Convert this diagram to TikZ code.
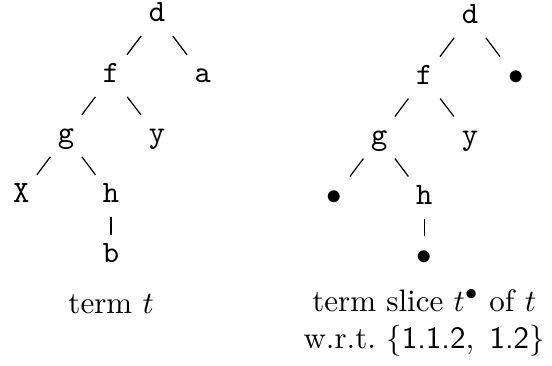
\documentclass[tikz,border=0pt]{standalone}
\usepackage{tikz}
\usetikzlibrary{positioning}

\begin{document}
\begin{tikzpicture}[
  sym/.style={font=\ttfamily, text height=5.5pt, text depth=1pt},
  hole/.style={sym, font=\normalfont},
  branch/.style={line width=0.4pt, draw=black},
  caption/.style={anchor=base, align=center}
]
\useasboundingbox (0,0) rectangle (6.26,-4.14);
% term t
\node[sym] (rootT) at (1.78,-0.17) {d};
\node[sym] (fT) at (1.26,-0.86) {f};
\node[sym] (aT) at (2.30,-0.86) {a};
\node[sym] (gT) at (0.75,-1.54) {g};
\node[sym] (yT) at (1.78,-1.54) {y};
\node[sym] (xT) at (0.24,-2.22) {X};
\node[sym] (hT) at (1.26,-2.22) {h};
\node[sym] (bT) at (1.26,-2.90) {b};
\draw[branch] (rootT) -- (fT);
\draw[branch] (rootT) -- (aT);
\draw[branch] (fT) -- (gT);
\draw[branch] (fT) -- (yT);
\draw[branch] (gT) -- (xT);
\draw[branch] (gT) -- (hT);
\draw[branch] (hT) -- (bT);
\node[caption] (capT) at (1.26,-3.56) {term $t$};

% term slice
\node[sym] (rootS) at (5.33,-0.19) {d};
\node[sym] (fS) at (4.81,-0.88) {f};
\node[hole] (holeA) at (5.85,-0.88) {$\bullet$};
\node[sym] (gS) at (4.30,-1.56) {g};
\node[sym] (yS) at (5.33,-1.56) {y};
\node[hole] (holeX) at (3.79,-2.24) {$\bullet$};
\node[sym] (hS) at (4.81,-2.24) {h};
\node[hole] (holeB) at (4.81,-2.92) {$\bullet$};
\draw[branch] (rootS) -- (fS);
\draw[branch] (rootS) -- (holeA);
\draw[branch] (fS) -- (gS);
\draw[branch] (fS) -- (yS);
\draw[branch] (gS) -- (holeX);
\draw[branch] (gS) -- (hS);
\draw[branch] (hS) -- (holeB);
\node[caption] (capS) at (4.81,-3.95)
  {term slice $t^\bullet$ of $t$\\
   w.r.t.\ $\{\textsf{1.1.2},\ \textsf{1.2}\}$};
\end{tikzpicture}
\end{document}
